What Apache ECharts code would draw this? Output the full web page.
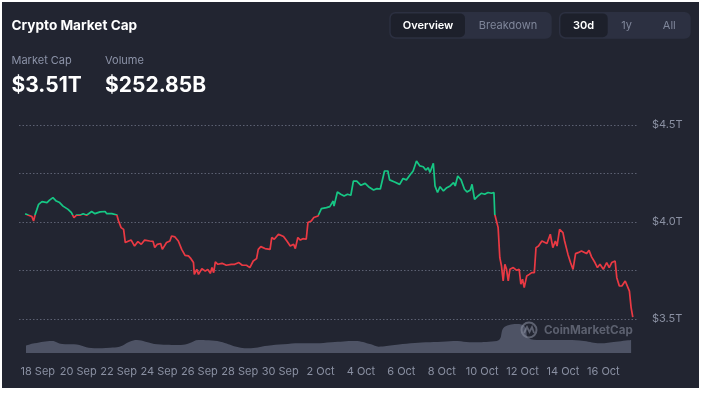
<!DOCTYPE html>
<html><head><meta charset="utf-8">
<script src="https://cdn.jsdelivr.net/npm/echarts@6/dist/echarts.min.js"></script>
<style>
html,body{margin:0;padding:0;background:#ffffff;width:702px;height:393px;overflow:hidden}
#chart{position:absolute;left:2px;top:2px;width:697px;height:386px;}
</style>
</head><body><div id="chart"></div>
<script>
// hours since 18 Sep 00:00
const capHours = [-15,-11,-7,-5,-3,-1,1,5,11,14,18,22,26,30,36,40,43,46,50,54,58,64,68,74,80,82,88,94,96,99,102,104,108,111,115,119,123,127,133,137,139,142,146,148,153,157,159,163,167,171,175,179,182,185,186,189,191,195,199,202,205,207,209,211,214,219,224,230,234,239,243,248,252,256,260,262,265,270,276,278,281,286,292,296,300,304,306,309,312,315,319,321,325,328,333,337,343,347,351,352,356,360,364,368,372,375,379,384,389,393,399,403,407,409,412,416,418,424,430,434,438,442,446,450,454,458,461,464,466,470,472,475,478,482,486,490,494,496,499,503,507,510,514,516,519,523,527,531,535,539,542,543,547,549,551,553,555,557,559,561,565,569,572,574,576,578,581,584,587,590,592,595,599,601,605,609,612,615,617,620,624,626,630,633,636,639,642,646,652,655,658,662,665,668,672,676,679,682,686,688,691,694,698,700,703,705,707];
// market cap, trillions USD
const capValues = [4.043,4.035,4.028,4.005,4.04,4.065,4.091,4.105,4.10,4.113,4.126,4.108,4.10,4.082,4.065,4.048,4.023,4.035,4.035,4.043,4.035,4.054,4.043,4.052,4.054,4.043,4.043,4.036,4.005,3.971,3.962,3.894,3.902,3.907,3.876,3.899,3.885,3.907,3.902,3.90,3.868,3.885,3.889,3.859,3.894,3.902,3.928,3.923,3.902,3.859,3.828,3.825,3.811,3.791,3.73,3.756,3.73,3.76,3.747,3.756,3.735,3.765,3.739,3.794,3.782,3.787,3.777,3.782,3.782,3.791,3.777,3.777,3.765,3.799,3.811,3.859,3.873,3.863,3.859,3.92,3.911,3.937,3.925,3.902,3.876,3.885,3.863,3.92,3.907,3.914,3.911,3.997,4.005,4.023,4.031,4.069,4.074,4.079,4.108,4.082,4.155,4.143,4.134,4.143,4.138,4.211,4.211,4.189,4.199,4.182,4.165,4.172,4.17,4.16,4.263,4.263,4.217,4.206,4.194,4.224,4.217,4.241,4.263,4.314,4.289,4.285,4.268,4.28,4.255,4.303,4.186,4.152,4.182,4.16,4.177,4.186,4.203,4.186,4.237,4.217,4.169,4.155,4.165,4.194,4.117,4.134,4.148,4.143,4.152,4.148,4.152,4.04,3.971,3.816,3.773,3.696,3.782,3.756,3.696,3.756,3.765,3.751,3.756,3.679,3.705,3.662,3.722,3.73,3.739,3.739,3.868,3.876,3.902,3.911,3.889,3.937,3.868,3.902,3.876,3.962,3.945,3.902,3.833,3.791,3.756,3.837,3.842,3.851,3.837,3.854,3.82,3.791,3.765,3.782,3.756,3.791,3.765,3.791,3.799,3.713,3.67,3.67,3.696,3.696,3.644,3.559,3.51];
const volHours = [-14,-4,17,29,43,67,86,97,109,118,128,142,170,180,191,203,217,236,250,273,292,311,330,349,377,396,405,424,443,461,480,499,513,536,548,553,560,569,579,583,597,630,649,668,687,705];
// volume, billions USD
const volValues = [97,128,159,119,115,62,71,84,150,172,150,115,106,128,172,168,150,84,62,97,115,128,128,142,159,115,84,106,128,142,150,159,142,150,172,327,371,384,349,194,172,172,159,128,150,172];
const xTickHours = [0,48,96,144,192,240,288,336,384,432,480,528,576,624,672];
const xTickLabels = ['18 Sep','20 Sep','22 Sep','24 Sep','26 Sep','28 Sep','30 Sep','2 Oct','4 Oct','6 Oct','8 Oct','10 Oct','12 Oct','14 Oct','16 Oct'];
const yTickValues = [3.5, 4.0, 4.5];
const yTickLabels = ['$3.5T', '$4.0T', '$4.5T'];
const baselineValue = 4.035;

const capData = capHours.map((h, i) => [h, capValues[i]]);
const volData = volHours.map((h, i) => [h, volValues[i]]);

const FONT = 'Inter, "Noto Sans", sans-serif';
const GREEN = '#16c784', RED = '#ea3943';
const xMin = -22.3, xMax = 712;

const chart = echarts.init(document.getElementById('chart'), null, {renderer: 'canvas'});
chart.setOption({
  backgroundColor: '#222531',
  animation: false,
  textStyle: {fontFamily: FONT},
  grid: [
    {left: 17, top: 123, width: 618, height: 194},
    {left: 17, top: 317, width: 618, height: 34}
  ],
  xAxis: [
    {type: 'value', gridIndex: 0, min: xMin, max: xMax, show: false},
    {type: 'value', gridIndex: 1, min: xMin, max: xMax,
     axisLine: {show: false}, axisTick: {show: false, customValues: xTickHours}, splitLine: {show: false},
     axisLabel: {
       customValues: xTickHours, margin: 13, color: '#8a90a2', fontSize: 11, fontFamily: FONT,
       formatter: v => { const i = xTickHours.indexOf(Math.round(v)); return i >= 0 ? xTickLabels[i] : ''; }
     }}
  ],
  yAxis: [
    {type: 'value', gridIndex: 0, position: 'right', min: 3.5, max: 4.5, interval: 0.25,
     axisLine: {show: false}, axisTick: {show: false},
     splitLine: {show: true, lineStyle: {color: '#5c6172', width: 1, type: [1.5, 2]}},
     axisLabel: {
       margin: 15, color: '#8a90a2', fontSize: 11, fontFamily: FONT,
       formatter: v => { const i = yTickValues.findIndex(t => Math.abs(t - v) < 1e-6); return i >= 0 ? yTickLabels[i] : ''; }
     }},
    {type: 'value', gridIndex: 1, min: 0, max: 450, show: false}
  ],
  visualMap: {
    show: false, type: 'piecewise', seriesIndex: 0, dimension: 1,
    pieces: [{gt: baselineValue, lte: 10, color: GREEN}, {gt: 0, lte: baselineValue, color: RED}]
  },
  graphic: [
    {type: 'text', left: 9.5, top: 17, style: {text: 'Crypto Market Cap', fill: '#ffffff', font: 'bold 13.6px ' + FONT}},
    {type: 'text', left: 9.5, top: 53, style: {text: 'Market Cap', fill: '#8c93a8', font: '11px ' + FONT}},
    {type: 'text', left: 103, top: 53, style: {text: 'Volume', fill: '#8c93a8', font: '11px ' + FONT}},
    {type: 'text', left: 9.5, top: 73, style: {text: '$3.51T', fill: '#ffffff', font: 'bold 21px ' + FONT}},
    {type: 'text', left: 103, top: 73, style: {text: '$252.85B', fill: '#ffffff', font: 'bold 21px ' + FONT}},
    // toggle group 1
    {type: 'rect', shape: {x: 387.3, y: 10, width: 162.4, height: 26.7, r: 6}, style: {fill: '#2c3041'}},
    {type: 'rect', shape: {x: 388.7, y: 11.4, width: 74.3, height: 23.9, r: 5}, style: {fill: '#1d202b'}},
    {type: 'text', x: 426, y: 23.5, style: {text: 'Overview', fill: '#ffffff', font: '600 11px ' + FONT, align: 'center', verticalAlign: 'middle'}},
    {type: 'text', x: 506, y: 23.5, style: {text: 'Breakdown', fill: '#7f869a', font: '11px ' + FONT, align: 'center', verticalAlign: 'middle'}},
    // toggle group 2
    {type: 'rect', shape: {x: 557, y: 10, width: 131.7, height: 26.7, r: 6}, style: {fill: '#2c3041'}},
    {type: 'rect', shape: {x: 558.4, y: 11.4, width: 47.3, height: 23.9, r: 5}, style: {fill: '#1d202b'}},
    {type: 'text', x: 581.5, y: 23.5, style: {text: '30d', fill: '#ffffff', font: '600 11px ' + FONT, align: 'center', verticalAlign: 'middle'}},
    {type: 'text', x: 624.7, y: 23.5, style: {text: '1y', fill: '#7f869a', font: '11px ' + FONT, align: 'center', verticalAlign: 'middle'}},
    {type: 'text', x: 667.3, y: 23.5, style: {text: 'All', fill: '#7f869a', font: '11px ' + FONT, align: 'center', verticalAlign: 'middle'}},
    // watermark
    {type: 'circle', z: 100, shape: {cx: 527, cy: 328, r: 7.5}, style: {fill: 'none', stroke: 'rgba(140,146,162,0.55)', lineWidth: 2}},
    {type: 'polyline', z: 100, shape: {points: [[522, 331], [525, 325], [527.5, 330], [530, 325], [532, 331]]}, style: {fill: 'none', stroke: 'rgba(140,146,162,0.55)', lineWidth: 1.8}},
    {type: 'text', z: 100, x: 542, y: 328.5, style: {text: 'CoinMarketCap', fill: 'rgba(140,146,162,0.55)', font: 'bold 11.6px ' + FONT, verticalAlign: 'middle'}}
  ],
  series: [
    {type: 'line', xAxisIndex: 0, yAxisIndex: 0, data: capData, showSymbol: false, symbol: 'none',
     lineStyle: {width: 1.7}, z: 5},
    {type: 'line', xAxisIndex: 1, yAxisIndex: 1, data: volData, showSymbol: false, symbol: 'none', smooth: 0.4,
     lineStyle: {width: 0}, areaStyle: {color: '#4e5365', opacity: 1}, z: 2}
  ]
});
</script>
</body></html>
